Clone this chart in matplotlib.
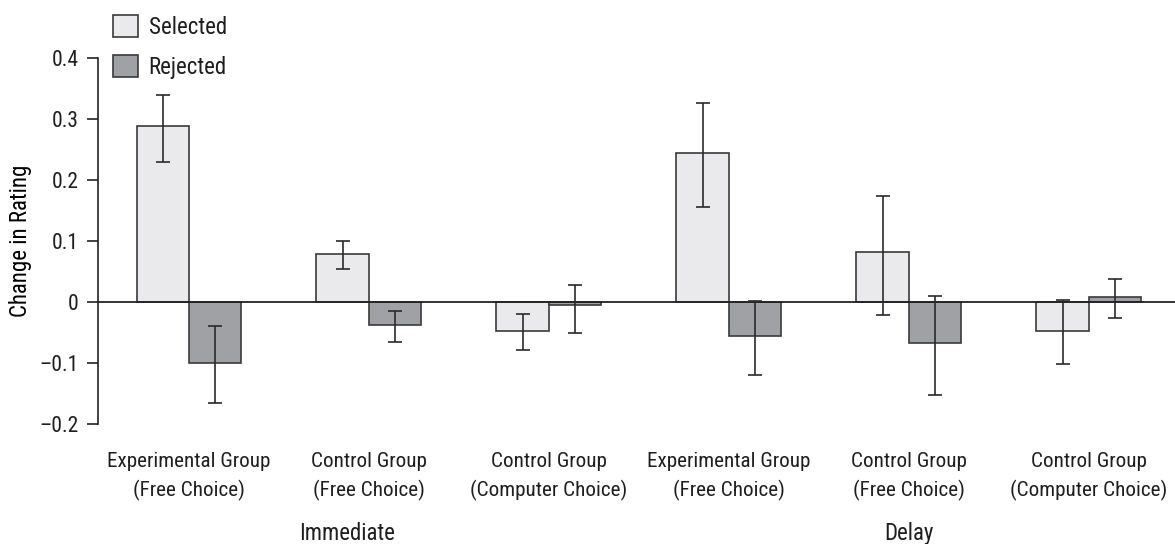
import matplotlib
matplotlib.use("Agg")
import matplotlib.pyplot as plt
import numpy as np
from matplotlib.patches import Patch

plt.rcParams['font.family'] = ['Roboto Condensed', 'Liberation Sans', 'DejaVu Sans']
plt.rcParams['text.color'] = '#1e1e1e'
plt.rcParams['ytick.labelcolor'] = '#1e1e1e'
plt.rcParams['xtick.labelcolor'] = '#1e1e1e'

# данні
groups = ['Experimental Group\n(Free Choice)', 'Control Group\n(Free Choice)',
          'Control Group\n(Computer Choice)', 'Experimental Group\n(Free Choice)',
          'Control Group\n(Free Choice)', 'Control Group\n(Computer Choice)']
selected = [0.288, 0.078, -0.048, 0.244, 0.082, -0.047]
selected_lo = [0.229, 0.054, -0.078, 0.155, -0.021, -0.101]
selected_hi = [0.339, 0.100, -0.019, 0.326, 0.174, 0.004]
rejected = [-0.100, -0.037, -0.005, -0.055, -0.067, 0.009]
rejected_lo = [-0.165, -0.065, -0.051, -0.119, -0.153, -0.027]
rejected_hi = [-0.040, -0.014, 0.028, 0.001, 0.010, 0.038]
phases = ['Immediate', 'Delay']

sel_color = '#eaeaec'
rej_color = '#a0a1a4'
edge = '#3a3a3a'

fig = plt.figure(figsize=(11.75, 5.44), dpi=100)
ax = fig.add_axes([0.0834, 0.2206, 0.9166, 0.6728])

x = np.arange(len(groups))
w = 0.29
sel = np.array(selected)
rej = np.array(rejected)
sel_err = [sel - np.array(selected_lo), np.array(selected_hi) - sel]
rej_err = [rej - np.array(rejected_lo), np.array(rejected_hi) - rej]

ax.bar(x - w / 2, sel, w, color=sel_color, edgecolor=edge, linewidth=1.2, zorder=2)
ax.bar(x + w / 2, rej, w, color=rej_color, edgecolor=edge, linewidth=1.2, zorder=2)
ax.errorbar(x - w / 2, sel, yerr=sel_err, fmt='none', ecolor='#2a2a2a',
            elinewidth=1.2, capsize=5, capthick=1.2, zorder=4)
ax.errorbar(x + w / 2, rej, yerr=rej_err, fmt='none', ecolor='#2a2a2a',
            elinewidth=1.2, capsize=5, capthick=1.2, zorder=4)
ax.axhline(0, color='#222222', linewidth=1.3, zorder=3)

ax.set_xlim(-0.504, 5.48)
ax.set_ylim(-0.2, 0.4)
ax.set_yticks([-0.2, -0.1, 0, 0.1, 0.2, 0.3, 0.4])
ax.set_yticklabels(['\u20130.2', '\u20130.1', '0', '0.1', '0.2', '0.3', '0.4'])
ax.set_xticks(x)
ax.set_xticklabels(groups, fontsize=15.2, linespacing=1.55)
ax.tick_params(axis='x', length=0, pad=20)
ax.tick_params(axis='y', labelsize=15.5, length=8, width=1.2, direction='out', pad=6,
               color='#222222')

for s in ['top', 'right', 'bottom']:
    ax.spines[s].set_visible(False)
ax.spines['left'].set_linewidth(1.2)
ax.spines['left'].set_color('#222222')

ax.set_ylabel('Change in Rating', fontsize=16.5, labelpad=5)

# підписи фаз
ax.text(0.88, -0.38, phases[0], fontsize=16.5, ha='center', va='center')
ax.text(4.0, -0.38, phases[1], fontsize=16.5, ha='center', va='center')

handles = [Patch(facecolor=sel_color, edgecolor=edge, linewidth=1.2, label='Selected'),
           Patch(facecolor=rej_color, edgecolor=edge, linewidth=1.2, label='Rejected')]
fig.legend(handles=handles, loc='upper left', bbox_to_anchor=(113 / 1175, 1 - 15 / 544),
           frameon=False, fontsize=16.5, handlelength=1.1, handleheight=1.1,
           handletextpad=0.45, labelspacing=0.7, borderpad=0, borderaxespad=0)

fig.savefig('out.png', dpi=100)
